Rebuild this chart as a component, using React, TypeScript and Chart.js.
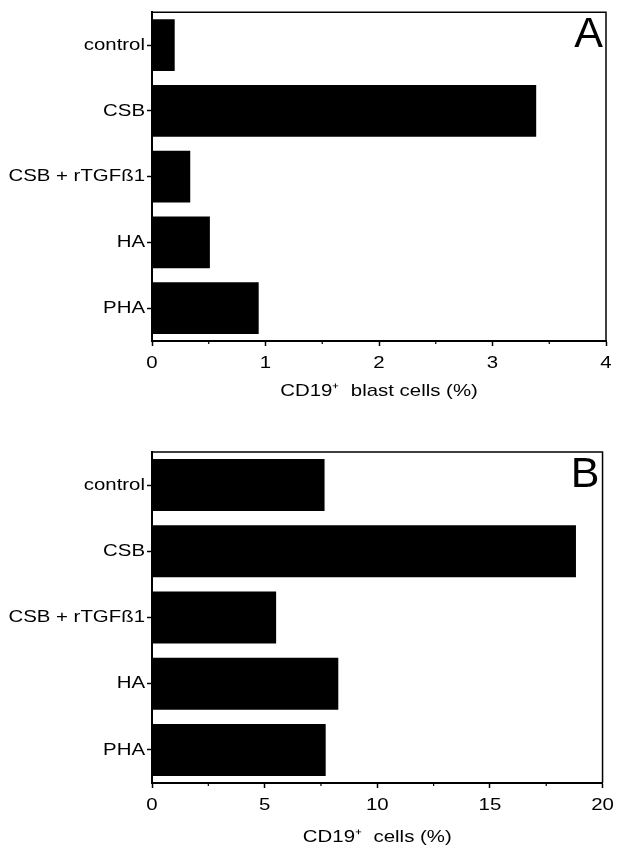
import React, { useEffect, useRef } from "react";
import { Chart, registerables } from "chart.js";

Chart.register(...registerables);

// ---- data ----
const categories = ["control", "CSB", "CSB + rTGFß1", "HA", "PHA"];
const blastValues = [0.2, 3.385, 0.337, 0.51, 0.94];
const cellValues = [7.66, 18.82, 5.51, 8.27, 7.71];
const blastTicks = [0, 1, 2, 3, 4];
const blastMinorTicks = [0.5, 1.5, 2.5, 3.5];
const cellTicks = [0, 5, 10, 15, 20];
const cellMinorTicks = [2.5, 7.5, 12.5, 17.5];
const blastTitle = "CD19⁺  blast cells (%)";
const cellTitle = "CD19⁺  cells (%)";
const panelLetters = ["A", "B"];

const FONT = '"Liberation Sans", Arial, Helvetica, sans-serif';
const STRETCH = 1.2;

function patchCtx(ctx: any) {
  if (ctx.__patched) return;
  const orig = ctx.fillText.bind(ctx);
  ctx.__origFill = orig;
  ctx.fillText = function (text: string, x: number, y: number) {
    ctx.save();
    ctx.translate(x, y);
    ctx.scale(STRETCH, 1);
    orig(text, 0, 0);
    ctx.restore();
  };
  ctx.__patched = true;
}

const framePlugin = {
  id: "frame",
  beforeDraw(chart: any) {
    patchCtx(chart.ctx);
  },
  afterDraw(chart: any, _args: any, opts: any) {
    const ctx = chart.ctx;
    const { left, right, top, bottom } = chart.chartArea;
    ctx.save();
    ctx.strokeStyle = "#000";
    ctx.lineWidth = 1.5;
    ctx.beginPath();
    ctx.moveTo(left, top);
    ctx.lineTo(right, top);
    ctx.lineTo(right, bottom);
    ctx.stroke();
    // minor ticks
    const xs = chart.scales.x;
    ctx.lineWidth = 1.2;
    ctx.beginPath();
    (opts.minor || []).forEach((v: number) => {
      const px = xs.getPixelForValue(v);
      ctx.moveTo(px, bottom);
      ctx.lineTo(px, bottom + 3);
    });
    ctx.stroke();
    // panel letter
    ctx.fillStyle = "#000";
    ctx.font = `43px ${FONT}`;
    ctx.textAlign = "right";
    ctx.textBaseline = "alphabetic";
    const fill = ctx.__origFill || ctx.fillText.bind(ctx);
    fill(opts.letter, right - 3, top + 35);
    ctx.restore();
  },
};

function makeConfig(
  values: number[],
  ticks: number[],
  minor: number[],
  title: string,
  letter: string,
  padTop: number,
  xHeight: number,
  titlePad: number
): any {
  const max = ticks[ticks.length - 1];
  const step = ticks[1] - ticks[0];
  return {
    type: "bar",
    data: {
      labels: categories,
      datasets: [
        {
          data: values,
          backgroundColor: "#000",
          borderWidth: 0,
          barPercentage: 1,
          categoryPercentage: 0.785,
        },
      ],
    },
    options: {
      indexAxis: "y",
      animation: false,
      responsive: false,
      events: [],
      layout: { padding: { top: padTop, right: 13, left: 0, bottom: 0 } },
      plugins: {
        legend: { display: false },
        tooltip: { enabled: false },
        frame: { letter, minor },
      },
      scales: {
        x: {
          min: ticks[0],
          max,
          ticks: {
            stepSize: step,
            color: "#000",
            font: { family: FONT, size: 17 },
            padding: 7,
            maxRotation: 0,
          },
          grid: {
            drawOnChartArea: false,
            tickLength: 5,
            tickColor: "#000",
            tickWidth: 1.5,
          },
          border: { color: "#000", width: 2 },
          title: {
            display: true,
            text: title,
            color: "#000",
            font: { family: FONT, size: 17 },
            padding: { top: 0, bottom: titlePad },
          },
          afterFit: (s: any) => {
            s.height = xHeight;
          },
        },
        y: {
          ticks: {
            color: "#000",
            font: { family: FONT, size: 17 },
            padding: 2,
            autoSkip: false,
          },
          grid: {
            offset: false,
            drawOnChartArea: false,
            tickLength: 5,
            tickColor: "#000",
            tickWidth: 1.5,
          },
          border: { color: "#000", width: 2 },
          afterFit: (s: any) => {
            s.width = 152;
          },
        },
      },
    },
    plugins: [framePlugin],
  };
}

function Panel(props: { config: any; top: number }) {
  const ref = useRef<HTMLCanvasElement>(null);
  useEffect(() => {
    if (!ref.current) return;
    const chart = new Chart(ref.current, props.config);
    return () => chart.destroy();
  }, []);
  return (
    <canvas
      ref={ref}
      width={619}
      height={424}
      style={{ position: "absolute", left: 0, top: props.top, width: 619, height: 424, display: "block" }}
    />
  );
}

export default function App() {
  const cfgA = makeConfig(blastValues, blastTicks, blastMinorTicks, blastTitle, panelLetters[0], 11, 83, 22);
  const cfgB = makeConfig(cellValues, cellTicks, cellMinorTicks, cellTitle, panelLetters[1], 28, 65, 0);
  return (
    <div style={{ position: "absolute", left: 0, top: 0, width: 619, height: 848, background: "#fff" }}>
      <Panel config={cfgA} top={0} />
      <Panel config={cfgB} top={424} />
    </div>
  );
}
